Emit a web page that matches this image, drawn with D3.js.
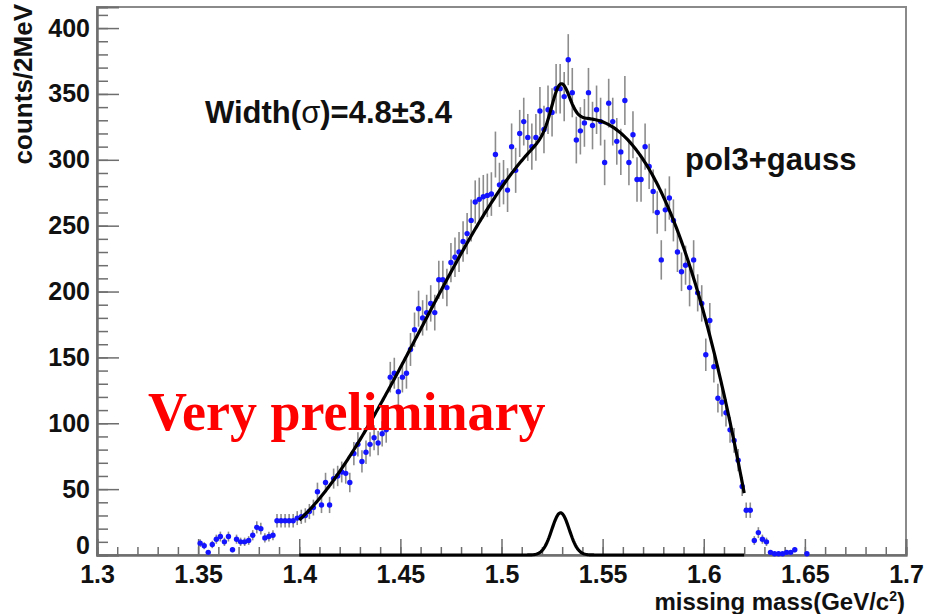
<!DOCTYPE html>
<html>
<head>
<meta charset="utf-8">
<script src="https://cdn.jsdelivr.net/npm/d3@7"></script>
<style>
  html, body { margin: 0; padding: 0; background: #fff; }
  svg { display: block; }
</style>
</head>
<body>
<script>
// Missing-mass histogram, 2 MeV bins; first bin starts at 1.350 GeV/c^2
const binStart = 1.350;
const binWidth = 0.002;
const counts = [
  9, 7, 2, 8, 12, 14, 10, 14, 4, 12,
  10, 10, 11, 15, 21, 20, 13, 14, 15, 26,
  26, 26, 26, 26, 28, 29, 30, 33, 36, 48,
  38, 55, 38, 58, 60, 63, 62, 55, 77, 84,
  71, 78, 84, 89, 85, 92, 95, 135, 138, 124,
  135, 138, 156, 171, 187, 180, 184, 191, 184, 209,
  209, 203, 222, 226, 230, 238, 244, 254, 268, 270,
  272, 273, 274, 304, 281, 283, 277, 310, 292, 320,
  329, 317, 310, 317, 337, 323, 338, 336, 354, 354,
  348, 376, 351, 315, 322, 328, 351, 326, 338, 329,
  298, 343, 329, 314, 306, 345, 298, 319, 285, 285,
  310, 295, 276, 260, 224, 262, 271, 254, 230, 215,
  220, 203, 224, 199, 191, 152, 178, 143, 119, 116,
  108, 95, 87, 72, 52, 34, 34, 11, 17, 12,
  10, 2, 1, 1, 1, 2, 2, 4, null, null,
  1
];

// Axis ticks
const xMajorTicks = [1.3, 1.35, 1.4, 1.45, 1.5, 1.55, 1.6, 1.65, 1.7];
const xTickLabels = ["1.3", "1.35", "1.4", "1.45", "1.5", "1.55", "1.6", "1.65", "1.7"];
const yMajorTicks = [0, 50, 100, 150, 200, 250, 300, 350, 400];
const yTickLabels = ["0", "50", "100", "150", "200", "250", "300", "350", "400"];

// Fit result "pol3+gauss": cubic in (m - 1.5) plus a gaussian peak
const pol3Coeffs = [279, 2225.6, -17381, -143973];
const gaussParams = [32, 1.5292, 0.0043];   // amplitude, mean, sigma
const fitRange = [1.40, 1.62];

const W = 933, H = 614;
const plot = { left: 97, right: 906, top: 7, bottom: 555 };

const svg = d3.select("body").append("svg")
  .attr("width", W).attr("height", H)
  .attr("font-family", "'Liberation Sans', Arial, Helvetica, sans-serif");

const x = d3.scaleLinear().domain([1.3, 1.7]).range([plot.left, plot.right]);
const y = d3.scaleLinear().domain([0, 416]).range([plot.bottom, plot.top]);

const axisColor = "#6e6e6e";

// frame
svg.append("rect")
  .attr("x", plot.left).attr("y", plot.top)
  .attr("width", plot.right - plot.left).attr("height", plot.bottom - plot.top)
  .attr("fill", "none").attr("stroke", "#8a8a8a").attr("stroke-width", 2);

// x axis: major ticks with labels, minor ticks every 0.01
const xMinor = d3.range(0, 41).map(i => 1.3 + i * 0.01);
const gxMinor = svg.append("g").attr("transform", `translate(0,${plot.bottom})`)
  .call(d3.axisBottom(x).tickValues(xMinor).tickSize(-8).tickFormat(""));
const gx = svg.append("g").attr("transform", `translate(0,${plot.bottom})`)
  .call(d3.axisBottom(x).tickValues(xMajorTicks).tickSize(-16).tickPadding(10)
    .tickFormat((d, i) => xTickLabels[i]));

// y axis: major ticks with labels, minor every 10
const yMinor = d3.range(0, 42).map(i => i * 10);
const gyMinor = svg.append("g").attr("transform", `translate(${plot.left},0)`)
  .call(d3.axisLeft(y).tickValues(yMinor).tickSize(-11).tickFormat(""));
const gy = svg.append("g").attr("transform", `translate(${plot.left},0)`)
  .call(d3.axisLeft(y).tickValues(yMajorTicks).tickSize(-22).tickPadding(7)
    .tickFormat((d, i) => yTickLabels[i]));

[gx, gy, gxMinor, gyMinor].forEach(g => {
  g.select(".domain").attr("stroke", axisColor).attr("stroke-width", 2);
  g.selectAll(".tick line").attr("stroke", axisColor).attr("stroke-width", 1.5);
});
gx.selectAll(".tick text")
  .attr("font-size", 25).attr("font-weight", "bold").attr("fill", "#111");
gy.selectAll(".tick text")
  .attr("font-size", 25).attr("font-weight", "bold").attr("fill", "#111");
// lift the zero label clear of the x labels
gy.selectAll(".tick text").filter(d => d === 0).attr("dy", "-0.05em");

// axis titles
svg.append("text")
  .attr("transform", `translate(32,4) rotate(-90)`)
  .attr("text-anchor", "end")
  .attr("font-size", 26).attr("font-weight", "bold").attr("fill", "#111")
  .text("counts/2MeV");

const xTitle = svg.append("text")
  .attr("x", plot.right - 1).attr("y", 610)
  .attr("text-anchor", "end")
  .attr("font-size", 24).attr("font-weight", "bold").attr("fill", "#111");
xTitle.append("tspan").text("missing mass(GeV/c");
xTitle.append("tspan").attr("font-size", 14).attr("dy", -9).text("2");
xTitle.append("tspan").attr("dy", 9).text(")");

// data points with Poisson error bars
const points = counts
  .map((c, i) => ({ m: binStart + (i + 0.5) * binWidth, c }))
  .filter(d => d.c !== null);

const dataG = svg.append("g");
dataG.selectAll("line.err").data(points).join("line")
  .attr("class", "err")
  .attr("x1", d => x(d.m)).attr("x2", d => x(d.m))
  .attr("y1", d => y(d.c + Math.sqrt(d.c)))
  .attr("y2", d => y(Math.max(0, d.c - Math.sqrt(d.c))))
  .attr("stroke", "#8c8c8c").attr("stroke-width", 1.6);
dataG.selectAll("circle").data(points).join("circle")
  .attr("cx", d => x(d.m)).attr("cy", d => y(d.c))
  .attr("r", 2.7).attr("fill", "#1414ff");

// fitted functions
const pol3 = m => {
  const t = m - 1.5;
  return pol3Coeffs[0] + pol3Coeffs[1] * t + pol3Coeffs[2] * t * t + pol3Coeffs[3] * t * t * t;
};
const gauss = m => gaussParams[0] * Math.exp(-0.5 * Math.pow((m - gaussParams[1]) / gaussParams[2], 2));
const samples = d3.range(fitRange[0], fitRange[1] + 1e-9, 0.0005);

const line = d3.line().x(d => x(d[0])).y(d => y(d[1])).curve(d3.curveLinear);
svg.append("path")
  .attr("d", line(samples.map(m => [m, pol3(m) + gauss(m)])))
  .attr("fill", "none").attr("stroke", "#000").attr("stroke-width", 3.2)
  .attr("stroke-linejoin", "round");
svg.append("path")
  .attr("d", line(samples.map(m => [m, gauss(m)])))
  .attr("fill", "none").attr("stroke", "#000").attr("stroke-width", 3.2)
  .attr("stroke-linejoin", "round");

// annotations
const wText = svg.append("text")
  .attr("x", 205).attr("y", 123)
  .attr("font-size", 31).attr("font-weight", "bold").attr("fill", "#111");
wText.append("tspan").text("Width(");
wText.append("tspan").attr("font-weight", "normal").text("σ");
wText.append("tspan").text(")=4.8±3.4");

svg.append("text")
  .attr("x", 685).attr("y", 170)
  .attr("font-size", 31).attr("font-weight", "bold").attr("fill", "#111")
  .text("pol3+gauss");

svg.append("text")
  .attr("x", 148).attr("y", 430)
  .attr("font-family", "'Liberation Serif', 'Times New Roman', serif")
  .attr("font-size", 54).attr("font-weight", "bold").attr("fill", "#ff0000")
  .text("Very preliminary");
</script>
</body>
</html>
